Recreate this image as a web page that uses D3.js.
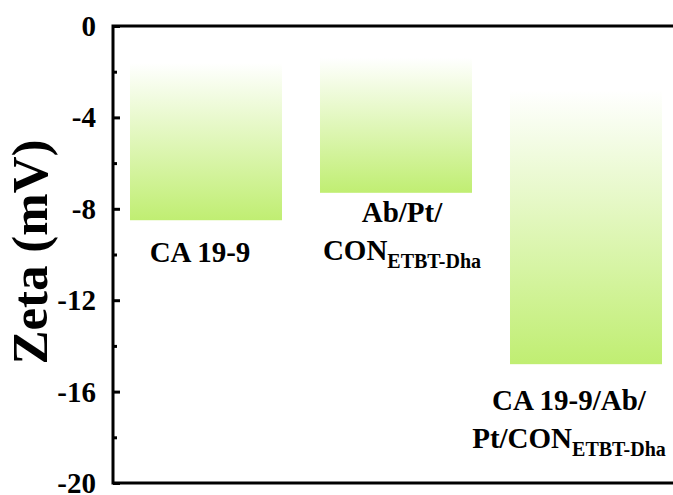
<!DOCTYPE html>
<html>
<head>
<meta charset="utf-8">
<script src="https://cdn.jsdelivr.net/npm/d3@7/dist/d3.min.js"></script>
<style>
  html, body { margin: 0; padding: 0; background: #fff; }
  svg { display: block; }
  text { font-family: "Liberation Serif", "Times New Roman", serif; font-weight: bold; fill: #000; }
</style>
</head>
<body>
<svg id="chart" width="673" height="495"></svg>
<script>
// Zeta potential of each sample (mV)
const categories = ["CA 19-9", "Ab/Pt/CON", "CA 19-9/Ab/Pt/CON"];
const zeta = [-8.5, -7.3, -14.8];
// Label lines: [main text, subscript]
const labelLines = [
  [["CA 19-9", ""]],
  [["Ab/Pt/", ""], ["CON", "ETBT-Dha"]],
  [["CA 19-9/Ab/", ""], ["Pt/CON", "ETBT-Dha"]]
];
const majorTicks = [0, -4, -8, -12, -16, -20];
const minorTicks = [-2, -6, -10, -14, -18];
const yTitle = "Zeta (mV)";

const svg = d3.select("#chart");
const plotLeft = 113, plotTop = 26, plotBottom = 483, plotRight = 690;

const y = d3.scaleLinear().domain([0, -20]).range([plotTop, plotBottom]);
const x = d3.scaleBand().domain(categories).range([111, 681])
  .paddingInner(0.2).paddingOuter(0.1);

// gradient fill: white near the zero line fading to light green at the bar end
const defs = svg.append("defs");
const grad = defs.append("linearGradient").attr("id", "barGrad")
  .attr("x1", 0).attr("y1", 0).attr("x2", 0).attr("y2", 1);
grad.append("stop").attr("offset", "0%").attr("stop-color", "#ffffff");
grad.append("stop").attr("offset", "19%").attr("stop-color", "#ffffff");
grad.append("stop").attr("offset", "100%").attr("stop-color", "#c0ee72");

svg.selectAll("rect.bar").data(categories).join("rect")
  .attr("class", "bar")
  .attr("x", d => x(d))
  .attr("width", x.bandwidth())
  .attr("y", y(0))
  .attr("height", (d, i) => y(zeta[i]) - y(0))
  .attr("fill", "url(#barGrad)");

// frame (top and bottom lines run off the right edge)
svg.append("path")
  .attr("d", `M${plotRight},${plotTop}H${plotLeft}V${plotBottom}H${plotRight}`)
  .attr("fill", "none").attr("stroke", "#000").attr("stroke-width", 3);

// y axis ticks pointing inward
const yAxis = d3.axisLeft(y).tickValues(majorTicks).tickSizeInner(-7).tickSizeOuter(0)
  .tickPadding(17).tickFormat(d => String(d));
const gy = svg.append("g").attr("transform", `translate(${plotLeft},0)`).call(yAxis);
gy.attr("font-family", null);
gy.select(".domain").remove();
gy.selectAll(".tick line").attr("stroke", "#000").attr("stroke-width", 3);
gy.selectAll(".tick text")
  .style("font-family", "'Liberation Serif', 'Times New Roman', serif")
  .style("font-weight", "bold").style("font-size", "29px")
  .attr("fill", "#000").attr("dy", "0.33em");

const yMinor = d3.axisLeft(y).tickValues(minorTicks).tickSizeInner(-4).tickSizeOuter(0).tickFormat("");
const gm = svg.append("g").attr("transform", `translate(${plotLeft},0)`).call(yMinor);
gm.select(".domain").remove();
gm.selectAll(".tick line").attr("stroke", "#000").attr("stroke-width", 3);

// y axis title
svg.append("text")
  .attr("transform", `translate(47,${252}) rotate(-90)`)
  .attr("text-anchor", "middle")
  .style("font-size", "51px")
  .text(yTitle);

// category labels placed relative to each bar
const labelLayout = [
  { dx: -6, y0: 262 },
  { dx: 6, y0: 222 },
  { dx: -17, y0: 410 }
];
const lineGap = 38;
categories.forEach((c, i) => {
  const cx = x(c) + x.bandwidth() / 2 + labelLayout[i].dx;
  labelLines[i].forEach((ln, j) => {
    const t = svg.append("text")
      .attr("x", cx)
      .attr("y", labelLayout[i].y0 + j * lineGap)
      .attr("text-anchor", "middle")
      .style("font-size", "29px");
    t.append("tspan").text(ln[0]);
    if (ln[1]) {
      t.append("tspan").attr("dy", 8).style("font-size", "20px").text(ln[1]);
    }
  });
});
</script>
</body>
</html>
